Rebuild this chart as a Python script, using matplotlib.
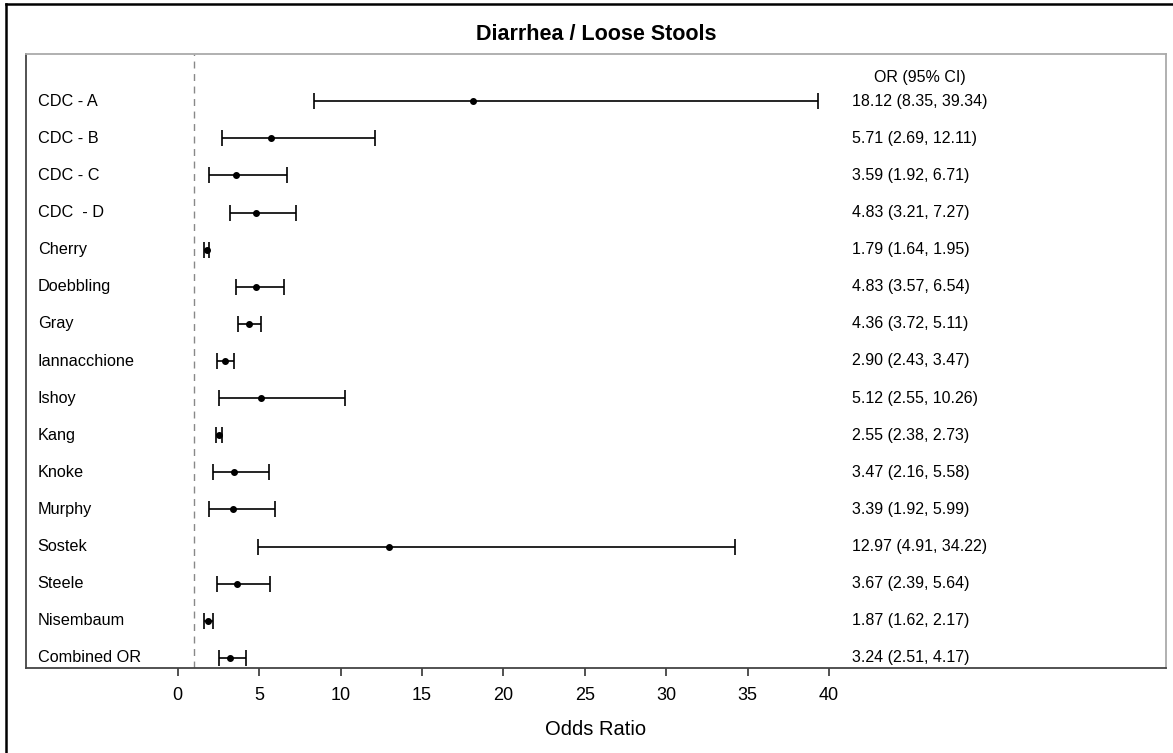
import matplotlib.pyplot as plt
import numpy as np
from matplotlib.lines import Line2D

studies = ["CDC - A", "CDC - B", "CDC - C", "CDC  - D", "Cherry", "Doebbling", "Gray",
           "Iannacchione", "Ishoy", "Kang", "Knoke", "Murphy", "Sostek", "Steele",
           "Nisembaum", "Combined OR"]
odds = [18.12, 5.71, 3.59, 4.83, 1.79, 4.83, 4.36, 2.90, 5.12, 2.55, 3.47, 3.39, 12.97, 3.67, 1.87, 3.24]
lower = [8.35, 2.69, 1.92, 3.21, 1.64, 3.57, 3.72, 2.43, 2.55, 2.38, 2.16, 1.92, 4.91, 2.39, 1.62, 2.51]
upper = [39.34, 12.11, 6.71, 7.27, 1.95, 6.54, 5.11, 3.47, 10.26, 2.73, 5.58, 5.99, 34.22, 5.64, 2.17, 4.17]
xticks = [0, 5, 10, 15, 20, 25, 30, 35, 40]

plt.rcParams['font.family'] = ['Liberation Sans', 'DejaVu Sans']

fig = plt.figure(figsize=(11.73, 7.53), dpi=100)
ax = fig.add_axes([26 / 1173, 1 - 668 / 753, (1166 - 26) / 1173, (668 - 54) / 753])

odds = np.array(odds)
lower = np.array(lower)
upper = np.array(upper)
y = np.arange(len(studies))

ax.axvline(1, color="#888888", linestyle=(0, (5, 4)), linewidth=1.0)
ax.errorbar(odds, y, xerr=[odds - lower, upper - odds], fmt="o", color="black",
            markersize=4, elinewidth=1.2, capsize=6, capthick=1.2)

for i, name in enumerate(studies):
    ax.text(-8.6, i, name, ha="left", va="center", fontsize=11.7)
    ax.text(41.4, i, "%.2f (%.2f, %.2f)" % (odds[i], lower[i], upper[i]),
            ha="left", va="center", fontsize=11.5)
ax.text(45.6, -0.65, "OR (95% CI)", ha="center", va="center", fontsize=11.5)

ax.set_xlim(-9.32, 60.7)
ax.set_ylim(15.27, -1.27)
ax.set_yticks([])
ax.set_xticks(xticks)
ax.tick_params(axis="x", labelsize=13, length=6, width=1.2, color="#333333", pad=8)
ax.set_xlabel("Odds Ratio", fontsize=14.5)
ax.xaxis.set_label_coords((596 - 26) / (1166 - 26), -0.084)
ax.set_title("Diarrhea / Loose Stools", fontsize=15.5, fontweight="bold", pad=10)

ax.spines["left"].set_color("#444444")
ax.spines["bottom"].set_color("#444444")
ax.spines["top"].set_color("#aaaaaa")
ax.spines["right"].set_color("#aaaaaa")
for s in ax.spines.values():
    s.set_linewidth(1.3)

# outer border (top and left visible)
fig.add_artist(Line2D([6 / 1173, 6 / 1173], [0, 1 - 4 / 753], transform=fig.transFigure,
                      color="black", linewidth=1.8))
fig.add_artist(Line2D([6 / 1173, 1], [1 - 4 / 753, 1 - 4 / 753], transform=fig.transFigure,
                      color="black", linewidth=1.8))

fig.savefig("out.png", dpi=100)
